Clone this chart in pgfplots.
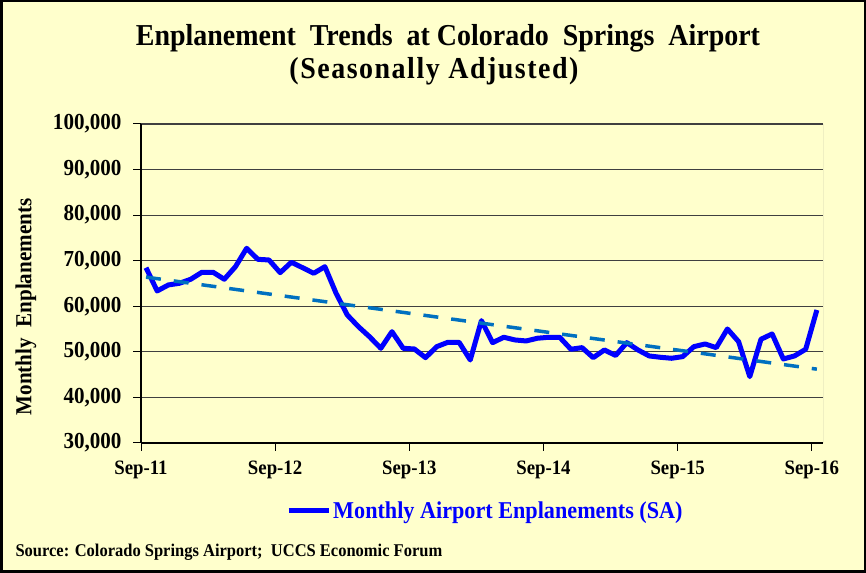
\documentclass[border=0pt]{standalone}
\usepackage{pgfplots}
\pgfplotsset{compat=1.18}
\usepackage{fontspec}
\setmainfont{Liberation Serif}[FakeStretch=0.92]
\definecolor{bg}{RGB}{255,255,204}
\definecolor{trend}{RGB}{0,112,192}
\begin{document}
\begin{tikzpicture}[x=1bp,y=1bp]
\fill[bg] (0,0) rectangle (866,573);
\begin{axis}[
  at={(141bp,130bp)}, anchor=south west,
  scale only axis, width=682bp, height=319bp,
  xmin=-0.447, xmax=60.55, ymin=30000, ymax=100000,
  axis background/.style={fill=bg},
  axis x line*=bottom, axis y line*=left,
  axis line style={black, line width=1.2bp, -},
  xtick={-0.447,11.55,23.55,35.55,47.55,59.55},
  xticklabels={Sep-11,Sep-12,Sep-13,Sep-14,Sep-15,Sep-16},
  ytick={30000,40000,50000,60000,70000,80000,90000,100000},
  yticklabels={{30,000},{40,000},{50,000},{60,000},{70,000},{80,000},{90,000},{100,000}},
  scaled y ticks=false,
  ymajorgrids, grid style={black!75, line width=1.2bp},
  tick align=outside, major tick length=8bp,
  tick style={black, line width=1bp},
  yticklabel style={font=\fontsize{23}{23}\selectfont\bfseries, xshift=-8bp},
  xticklabel style={font=\fontsize{20.5}{20}\selectfont\bfseries, yshift=-6bp},
  legend style={at={(0.505,-0.213)}, anchor=center, draw=none, fill=none,
    font=\fontsize{24.2}{24}\selectfont\bfseries, text=blue},
  legend image code/.code={\draw[#1, line width=5bp] (0bp,0bp) -- (40bp,0bp);},
]
\addplot[blue, line width=5bp, line join=round] coordinates {
(0,68470) (1,63360) (2,64680) (3,65050) (4,65930) (5,67460) (6,67460) (7,65930)
(8,68690) (9,72720) (10,70310) (11,70160) (12,67380) (13,69660) (14,68470)
(15,67240) (16,68690) (17,62850) (18,58100) (19,55530) (20,53300) (21,50780)
(22,54430) (23,50780) (24,50630) (25,48730) (26,51140) (27,52100) (28,52100)
(29,48220) (30,56850) (31,52020) (32,53200) (33,52610) (34,52390) (35,52980)
(36,53200) (37,53200) (38,50570) (39,50920) (40,48730) (41,50420) (42,49200)
(43,52020) (44,50420) (45,49100) (46,48810) (47,48590) (48,48950) (49,51140)
(50,51730) (51,50920) (52,55020) (53,52240) (54,44560) (55,52760) (56,53930)
(57,48440) (58,49100) (59,50570) (60,59190)
};
\addlegendentry{Monthly Airport Enplanements (SA)}
\addplot[trend, line width=3.5bp, dash pattern=on 15bp off 13bp, forget plot] coordinates {(0,66400) (60,46200)};
\draw[black!50, line width=1bp] (rel axis cs:1,0) -- (rel axis cs:1,1);
\end{axis}
\node[font=\fontsize{30.5}{30}\selectfont\bfseries] at (448,535) {Enplanement\ \ Trends\ \ at Colorado\ \ Springs\ \ Airport};
\node[font=\fontsize{30.5}{30}\selectfont\bfseries\addfontfeatures{LetterSpace=5}] at (434,502) {(Seasonally\ Adjusted)};
\node[rotate=90, font=\fontsize{23}{23}\selectfont\bfseries] at (26,266) {Monthly\ \ Enplanements};
\node[anchor=west, font=\fontsize{18}{18}\selectfont\bfseries] at (12,21) {Source: Colorado Springs Airport;\ \ UCCS Economic Forum};
\draw[black, line width=2.5bp] (1.25,1.25) rectangle (864.75,571.75);
\end{tikzpicture}
\end{document}
